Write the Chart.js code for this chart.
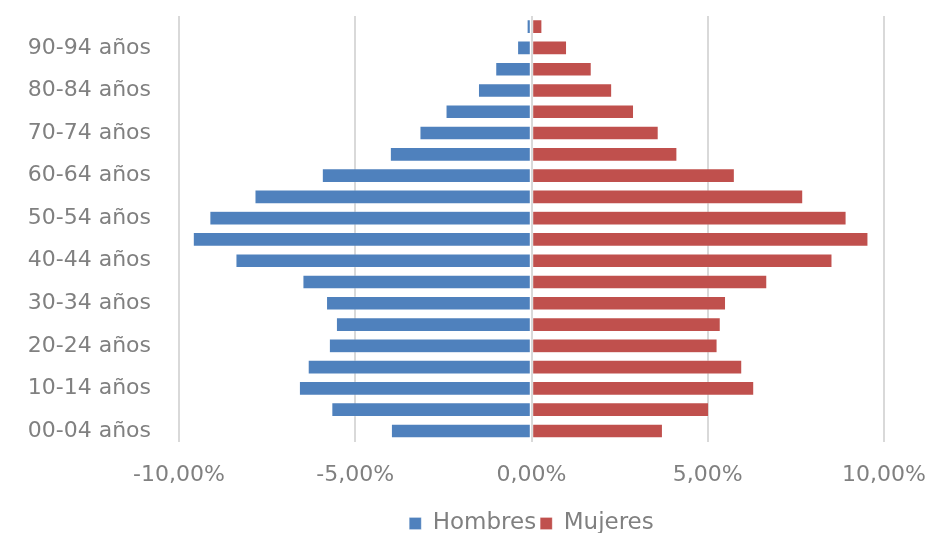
<!DOCTYPE html>
<html>
<head>
<meta charset="utf-8">
<script src="https://cdn.jsdelivr.net/npm/chart.js@4"></script>
<style>
	html, body { margin: 0; padding: 0; background: #fff; }
	#wrap { width: 928px; height: 533px; }
</style>
</head>
<body>
<div id="wrap"><canvas id="pyramid"></canvas></div>
<script>
// grupos de edad, de abajo (00-04) hacia arriba (95+)
const ageGroups = [
	"00-04 años", "05-09 años", "10-14 años", "15-19 años", "20-24 años",
	"25-29 años", "30-34 años", "35-39 años", "40-44 años", "45-49 años",
	"50-54 años", "55-59 años", "60-64 años", "65-69 años", "70-74 años",
	"75-79 años", "80-84 años", "85-89 años", "90-94 años", "95+ años"
];
// porcentajes (hombres en negativo para la pirámide)
const hombres = [
	-3.98, -5.67, -6.59, -6.34, -5.74,
	-5.54, -5.82, -6.49, -8.39, -9.60,
	-9.13, -7.85, -5.94, -4.01, -3.17,
	-2.43, -1.51, -1.02, -0.40, -0.13
];
const mujeres = [
	3.72, 5.03, 6.31, 5.97, 5.27,
	5.36, 5.51, 6.68, 8.53, 9.55,
	8.93, 7.70, 5.76, 4.13, 3.60,
	2.90, 2.28, 1.70, 1.00, 0.30
];
const xTicks = [-10, -5, 0, 5, 10];

const grey = "#808080";
const fontFam = "'DejaVu Sans', sans-serif";

function pct(v){
	return v.toFixed(2).replace(".", ",") + "%";
}

new Chart(document.getElementById("pyramid"), {
	type: "bar",
	data: {
		labels: ageGroups,
		datasets: [
			{ label: "Hombres", data: hombres, backgroundColor: "#4F81BD", borderColor: "rgba(255,255,255,0.35)", borderWidth: 0.7, borderSkipped: false },
			{ label: "Mujeres", data: mujeres, backgroundColor: "#C0504D", borderColor: "rgba(255,255,255,0.35)", borderWidth: 0.7, borderSkipped: false }
		]
	},
	options: {
		indexAxis: "y",
		responsive: true,
		maintainAspectRatio: false,
		animation: false,
		datasets: { bar: { barPercentage: 0.66, categoryPercentage: 1 } },
		layout: { padding: { top: 16, right: 0, bottom: -12, left: 0 } },
		plugins: {
			tooltip: { enabled: false },
			legend: {
				position: "bottom",
				fullSize: false,
				labels: {
					color: grey,
					boxWidth: 12, boxHeight: 12, padding: 4,
					font: { family: fontFam, size: 23 }
				}
			}
		},
		scales: {
			x: {
				stacked: true,
				min: -10, max: 10,
				afterBuildTicks: s => { s.ticks = xTicks.map(v => ({ value: v })); },
				afterFit: s => { s.paddingLeft = 0; s.paddingRight = 44; },
				grid: { color: "#d9d9d9", lineWidth: 2, drawTicks: false },
				border: { display: false },
				ticks: { color: grey, padding: 20, font: { family: fontFam, size: 22 }, callback: v => pct(v) }
			},
			y: {
				stacked: true,
				reverse: true,
				afterFit: s => { s.width = 179; s.paddingTop = 0; s.paddingBottom = 0; },
				grid: { display: false, drawTicks: false },
				border: { display: false },
				ticks: {
					autoSkip: false,
					color: grey, padding: 28,
					font: { family: fontFam, size: 22 },
					callback: function(v, i){ return i % 2 === 0 ? this.getLabelForValue(v) : ""; }
				}
			}
		}
	}
});
</script>
</body>
</html>
